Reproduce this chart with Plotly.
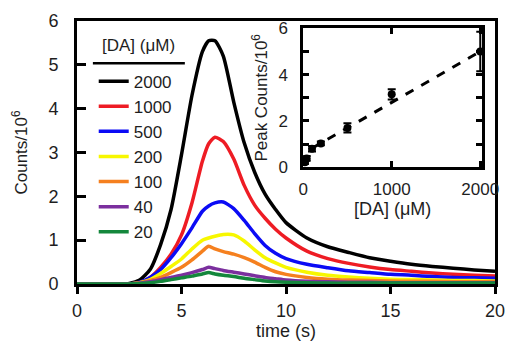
import plotly.graph_objects as go

# ---------------- data ----------------
time_s = [0, 1, 2, 2.5, 3, 3.5, 4, 4.5, 5, 5.5, 6, 6.3, 6.6, 7, 7.5, 8, 8.5, 9, 9.5, 10,
          11, 12, 13, 14, 15, 16, 17, 18, 19, 20]

conc_labels = ["2000", "1000", "500", "200", "100", "40", "20"]
counts_2000 = [0, 0, 0, 0.01, 0.09, 0.33, 0.9, 1.7, 2.95, 4.3, 5.3, 5.55, 5.55, 5.2, 4.15, 3.22,
               2.55, 2.05, 1.7, 1.4, 1.05, 0.85, 0.72, 0.6, 0.52, 0.45, 0.4, 0.36, 0.32, 0.29]
counts_1000 = [0, 0, 0, 0, 0.03, 0.15, 0.38, 0.68, 1.12, 1.85, 2.8, 3.2, 3.35, 3.25, 2.85, 2.25,
               1.8, 1.5, 1.25, 1.05, 0.75, 0.58, 0.47, 0.39, 0.33, 0.29, 0.25, 0.22, 0.2, 0.18]
counts_500 = [0, 0, 0, 0, 0.04, 0.15, 0.33, 0.6, 0.92, 1.28, 1.66, 1.78, 1.85, 1.87, 1.72, 1.45,
              1.15, 0.88, 0.7, 0.58, 0.45, 0.37, 0.3, 0.26, 0.22, 0.2, 0.17, 0.15, 0.14, 0.13]
counts_200 = [0, 0, 0, 0, 0.03, 0.1, 0.24, 0.4, 0.57, 0.8, 1.0, 1.05, 1.09, 1.13, 1.12, 0.98,
              0.78, 0.6, 0.48, 0.38, 0.27, 0.2, 0.16, 0.13, 0.11, 0.1, 0.09, 0.08, 0.08, 0.07]
counts_100 = [0, 0, 0, 0, 0.03, 0.08, 0.15, 0.26, 0.38, 0.55, 0.75, 0.86, 0.8, 0.74, 0.68, 0.6,
              0.5, 0.38, 0.28, 0.22, 0.15, 0.11, 0.09, 0.08, 0.07, 0.06, 0.06, 0.05, 0.05, 0.05]
counts_40 = [0, 0, 0, 0, 0.02, 0.05, 0.1, 0.15, 0.2, 0.26, 0.33, 0.38, 0.35, 0.31, 0.27, 0.23,
             0.19, 0.15, 0.12, 0.09, 0.06, 0.05, 0.04, 0.04, 0.03, 0.03, 0.03, 0.03, 0.03, 0.03]
counts_20 = [0, 0, 0, 0, 0.01, 0.03, 0.06, 0.1, 0.14, 0.18, 0.23, 0.26, 0.23, 0.2, 0.17, 0.13,
             0.1, 0.07, 0.05, 0.04, 0.03, 0.02, 0.02, 0.02, 0.02, 0.02, 0.02, 0.02, 0.02, 0.02]

# inset: peak counts vs concentration
inset_conc = [20, 40, 100, 200, 500, 1000, 2000]
inset_peak = [0.22, 0.38, 0.8, 1.03, 1.7, 3.15, 5.0]
inset_err = [0.08, 0.1, 0.12, 0.08, 0.2, 0.22, 0.85]
fit_conc = [100, 2000]
fit_peak = [0.82, 5.0]

# ---------------- style ----------------
colors = ["#000000", "#ee1c24", "#0b0bf5", "#f7f700", "#f5801f", "#7b2f9e", "#14873c"]
series = [counts_2000, counts_1000, counts_500, counts_200, counts_100, counts_40, counts_20]
FONT = "Liberation Sans, Arial, sans-serif"
TXT = "#1e1e1e"

fig = go.Figure()
for lab, ys, col in zip(conc_labels, series, colors):
    fig.add_trace(go.Scatter(x=time_s, y=ys, mode="lines", name=lab,
                             line=dict(color=col, width=3.5, shape="spline", smoothing=0.6),
                             xaxis="x", yaxis="y"))

fig.add_trace(go.Scatter(x=fit_conc, y=fit_peak, mode="lines", showlegend=False,
                         line=dict(color="black", width=3, dash="dash"),
                         xaxis="x2", yaxis="y2"))
fig.add_trace(go.Scatter(x=inset_conc, y=inset_peak, mode="markers", showlegend=False,
                         marker=dict(color="black", size=8),
                         error_y=dict(type="data", array=inset_err, color="black",
                                      thickness=2, width=4),
                         xaxis="x2", yaxis="y2", cliponaxis=False))

fig.update_layout(
    width=505, height=343,
    margin=dict(l=77, r=10, t=21, b=59, autoexpand=False),
    paper_bgcolor="white", plot_bgcolor="white",
    font=dict(family=FONT, size=17, color=TXT),
    xaxis=dict(range=[0, 20], tickvals=[0, 5, 10, 15, 20], showgrid=False, zeroline=False,
               showline=True, linewidth=3, linecolor="black", mirror=True, automargin=False,
               ticks="outside", ticklen=7, tickwidth=3, tickcolor="black",
               tickfont=dict(size=18), ticklabelstandoff=1, ticklabeloverflow="allow",
               title=dict(text="time (s)", font=dict(size=18), standoff=0)),
    yaxis=dict(range=[0, 6], tickvals=[0, 1, 2, 3, 4, 5, 6], showgrid=False, zeroline=False,
               showline=True, linewidth=3, linecolor="black", mirror=True, automargin=False,
               ticks="inside", ticklen=9, tickwidth=3, tickcolor="black",
               tickfont=dict(size=18), ticklabelstandoff=12,
               title=dict(text="Counts/10<sup>6</sup>", font=dict(size=17), standoff=17)),
    xaxis2=dict(domain=[0.541, 0.969], anchor="y2", range=[0, 2020], automargin=False,
                tickvals=[0, 1000, 2000], showgrid=False, zeroline=False,
                showline=True, linewidth=2.5, linecolor="black", mirror="ticks",
                ticks="inside", ticklen=6, tickwidth=2.5, tickcolor="black",
                tickfont=dict(size=17), ticklabelstandoff=5, ticklabeloverflow="allow",
                title=dict(text="[DA] (μM)", font=dict(size=18), standoff=0)),
    yaxis2=dict(domain=[0.444, 0.972], anchor="x2", range=[0, 6], automargin=False,
                tickvals=[0, 2, 4, 6], showgrid=False, zeroline=False,
                showline=True, linewidth=2.5, linecolor="black", mirror="ticks",
                ticks="inside", ticklen=6, tickwidth=2.5, tickcolor="black",
                minor=dict(dtick=1, ticks="inside", ticklen=6, tickwidth=2.5, tickcolor="black"),
                tickfont=dict(size=17), ticklabelstandoff=9,
                title=dict(text="Peak Counts/10<sup>6</sup>", font=dict(size=17), standoff=7)),
    legend=dict(x=0.04, y=0.838, xanchor="left", yanchor="top", bgcolor="rgba(0,0,0,0)",
                font=dict(size=17, color=TXT), itemwidth=30, tracegroupgap=0),
    annotations=[dict(text="[DA] (μM)", x=0.146, y=0.908, xref="paper", yref="paper",
                      xanchor="center", yanchor="middle",
                      showarrow=False, font=dict(size=17, color=TXT))],
    shapes=[dict(type="line", xref="paper", yref="paper", x0=0.038, x1=0.258,
                 y0=0.839, y1=0.839, line=dict(color="black", width=2.5))],
)

fig.write_html("out.html", post_script="document.body.style.margin='0';",
               config={"displayModeBar": False})
